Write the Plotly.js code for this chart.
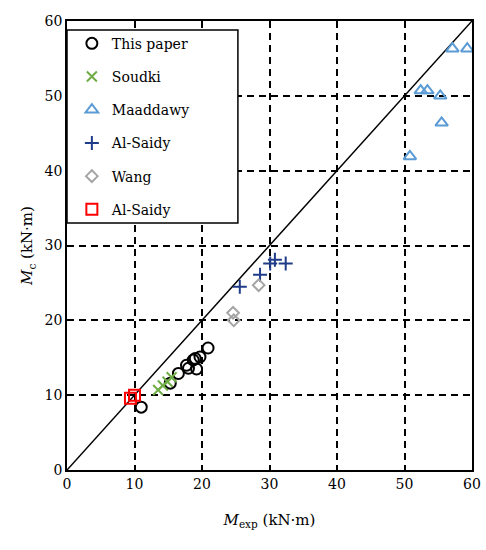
<!DOCTYPE html>
<html>
<head>
<meta charset="utf-8">
<script src="https://cdn.plot.ly/plotly-3.0.1.min.js"></script>
<style>
  html, body { margin: 0; padding: 0; background: #fff; }
  #myPlot { width: 486px; height: 550px; }
</style>
</head>
<body>
<div id="myPlot"></div>
<script>
        // Data (kN·m)
        const paperExp = [11.0, 20.9, 19.7, 19.0, 19.2, 18.0, 17.7, 16.5, 15.3, 18.7];
        const paperCalc = [8.4, 16.3, 15.1, 14.9, 13.5, 13.6, 14.0, 12.9, 11.6, 14.7];

        const soudkiExp = [13.5, 14.2, 14.9, 15.5];
        const soudkiCalc = [10.7, 11.3, 11.8, 12.4];

        const maadExp = [57.1, 59.3, 52.4, 53.4, 55.3, 55.5, 50.8];
        const maadCalc = [56.3, 56.3, 50.7, 50.7, 50.0, 46.4, 41.9];

        const saidyExp = [25.6, 28.6, 30.1, 30.8, 32.4];
        const saidyCalc = [24.5, 26.1, 27.6, 28.1, 27.6];

        const wangExp = [28.4, 24.6, 24.7];
        const wangCalc = [24.7, 21.0, 20.0];

        const saidy2Exp = [9.4, 10.0];
        const saidy2Calc = [9.6, 10.0];

        const lineEnds = [0, 60];
        const tickVals = [0, 10, 20, 30, 40, 50, 60];

        const serif = "DejaVu Serif";

        function pts(name, x, y, symbol, color, size, group) {
            return {
                x: x, y: y, name: name, type: "scatter", mode: "markers",
                legendgroup: group,
                marker: { symbol: symbol, size: size, color: color, line: { color: color, width: 2 } }
            };
        }

        const data = [
            {
                x: lineEnds, y: lineEnds, type: "scatter", mode: "lines",
                line: { color: "#000", width: 1.5 }, showlegend: false, hoverinfo: "skip"
            },
            pts("This paper", paperExp, paperCalc, "circle-open", "#000000", 11, "g1"),
            pts("Soudki", soudkiExp, soudkiCalc, "x-thin-open", "#70AD47", 10, "g2"),
            pts("Maaddawy", maadExp, maadCalc, "triangle-up-open", "#5B9BD5", 11, "g3"),
            pts("Al-Saidy", saidyExp, saidyCalc, "cross-thin-open", "#1F3C88", 10, "g4"),
            pts("Wang", wangExp, wangCalc, "diamond-open", "#A5A5A5", 9, "g5"),
            pts("Al-Saidy", saidy2Exp, saidy2Calc, "square-open", "#FF0000", 11, "g6")
        ];

        const axisStyle = {
            range: [0, 60],
            tickvals: tickVals,
            showline: true, linecolor: "#000", linewidth: 1.5, mirror: true,
            showgrid: true, gridcolor: "#000", gridwidth: 1.5, griddash: "7px,5px",
            zeroline: false, ticks: "", tickfont: { family: serif, size: 14, color: "#000" }
        };

        const layout = {
            width: 486, height: 550,
            margin: { l: 67, r: 14, t: 21, b: 80 },
            font: { family: serif, color: "#000" },
            paper_bgcolor: "#fff", plot_bgcolor: "#fff",
            xaxis: Object.assign({}, axisStyle, {
                title: { text: "<i>M</i><sub>exp</sub> (kN·m)", font: { family: serif, size: 15 }, standoff: 24 }
            }),
            yaxis: Object.assign({}, axisStyle, {
                title: { text: "<i>M</i><sub>c</sub> (kN·m)", font: { family: serif, size: 15 }, standoff: 8 }
            }),
            // white box with frame behind the legend
            shapes: [{
                type: "rect", xref: "paper", yref: "paper", layer: "above",
                x0: 0, x1: 0.422, y0: 0.55, y1: 0.98,
                fillcolor: "#fff", line: { color: "#000", width: 1.5 }
            }],
            legend: {
                x: 0.012, y: 0.985, xanchor: "left", yanchor: "top",
                bgcolor: "rgba(0,0,0,0)", borderwidth: 0,
                font: { family: serif, size: 14 }, tracegroupgap: 12,
                itemwidth: 30
            },
            showlegend: true
        };

        Plotly.newPlot("myPlot", data, layout, { displayModeBar: false });
</script>
</body>
</html>
